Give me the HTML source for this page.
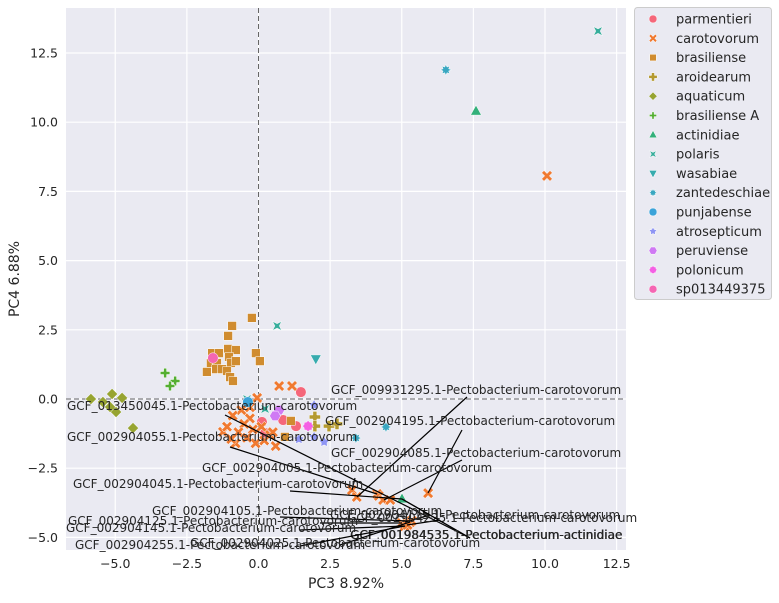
<!DOCTYPE html>
<html><head><meta charset="utf-8"><style>
body{margin:0;background:#fff;width:779px;height:598px;overflow:hidden}
svg text{font-family:"DejaVu Sans","Liberation Sans",sans-serif;fill:#262626}
</style></head><body>
<svg id="chart" width="779" height="598" xmlns="http://www.w3.org/2000/svg"></svg>
<script>
const species=["parmentieri","carotovorum","brasiliense","aroidearum","aquaticum","brasiliense A","actinidiae","polaris","wasabiae","zantedeschiae","punjabense","atrosepticum","peruviense","polonicum","sp013449375"];
const colors=["#f5677a","#f07a31","#d08c2f","#b49a31","#97a431","#54ae31","#33b07a","#36ad9b","#37abae","#39a7c1","#3ba3d9","#8e95f4","#cf79f4","#f460e4","#f566b3"];
const shapes=["circle","x","square","plus","diamond","thinplus","tri","bowtie","tridown","star8","circle","star5","hex","oct","circle"];
const pts_parmentieri=[[1.48,0.25],[0.12,-0.83],[0.86,-0.76],[1.31,-0.98],[0.23,-1.23]];
const pts_carotovorum=[[10.07,8.06],[1.17,0.47],[0.72,0.47],[-0.05,0.04],[-1.24,-1.19],[5.92,-3.40],[3.26,-3.29],[3.43,-3.54],[4.14,-3.43],[4.2,-3.5],[4.35,-3.65],[4.6,-3.65],[5.0,-4.48],[5.1,-4.6],[5.3,-4.45],[5.35,-4.4],[5.2,-4.55],[-0.6,-0.4],[-0.3,-0.7],[-0.9,-0.6],[-0.5,-0.9],[-0.2,-1.1],[0.1,-1.0],[-0.7,-1.2],[-0.4,-1.4],[0.2,-1.5],[-1.1,-1.0],[-0.8,-1.6],[0.6,-1.7],[0.4,-1.3],[-0.1,-1.6],[-0.95,-1.45],[0.5,-1.2],[-0.3,-0.3]];
const pts_brasiliense=[[-0.23,2.93],[-0.92,2.64],[-1.06,2.28],[-1.06,1.81],[-0.79,1.77],[-1.62,1.66],[-1.38,1.66],[-1.03,1.52],[-0.09,1.66],[0.05,1.37],[-1.66,1.30],[-1.45,1.30],[-0.96,1.30],[-0.79,1.37],[-1.80,0.98],[-1.48,1.08],[-1.27,1.08],[-1.10,1.01],[-0.99,0.79],[-0.89,0.65],[1.13,-0.79],[0.92,-1.37]];
const pts_aroidearum=[[1.97,-0.65],[1.97,-0.98],[2.46,-0.98],[2.74,-0.90]];
const pts_aquaticum=[[-5.85,0],[-5.11,0.18],[-4.76,0.04],[-5.43,-0.11],[-5.18,-0.29],[-4.97,-0.47],[-4.38,-1.05]];
const pts_brasilienseA=[[-3.26,0.94],[-2.91,0.65],[-3.09,0.47]];
const pts_actinidiae=[[7.59,10.40],[5.01,-3.61]];
const pts_polaris=[[11.85,13.29],[0.65,2.64],[-0.4,0],[0.23,-0.36]];
const pts_wasabiae=[[2.0,1.45]];
const pts_zantedeschiae=[[6.54,11.89],[4.45,-1.01],[3.40,-1.41]];
const pts_punjabense=[[-0.37,-0.11]];
const pts_atrosepticum=[[1.94,-0.22],[1.41,-1.45],[2.29,-1.55],[1.94,-1.37]];
const pts_peruviense=[[0.72,-0.40],[0.58,-0.61]];
const pts_polonicum=[[1.73,-0.98]];
const pts_sp=[[-1.59,1.48]];
const allPts=[pts_parmentieri,pts_carotovorum,pts_brasiliense,pts_aroidearum,pts_aquaticum,pts_brasilienseA,pts_actinidiae,pts_polaris,pts_wasabiae,pts_zantedeschiae,pts_punjabense,pts_atrosepticum,pts_peruviense,pts_polonicum,pts_sp];
const xTicks=[-5,-2.5,0,2.5,5,7.5,10,12.5];
const yTicks=[-5,-2.5,0,2.5,5,7.5,10,12.5];
const xLabels=["−5.0","−2.5","0.0","2.5","5.0","7.5","10.0","12.5"];
const yLabels=["−5.0","−2.5","0.0","2.5","5.0","7.5","10.0","12.5"];
const annText=["GCF_009931295.1-Pectobacterium-carotovorum","GCF_013450045.1-Pectobacterium-carotovorum","GCF_002904195.1-Pectobacterium-carotovorum","GCF_002904055.1-Pectobacterium-carotovorum","GCF_002904085.1-Pectobacterium-carotovorum","GCF_002904005.1-Pectobacterium-carotovorum","GCF_002904045.1-Pectobacterium-carotovorum","GCF_002904105.1-Pectobacterium-carotovorum","GCF_002904115.1-Pectobacterium-carotovorum","GCF_002904225.1-Pectobacterium-carotovorum","GCF_002904125.1-Pectobacterium-carotovorum","GCF_002904145.1-Pectobacterium-carotovorum","GCF_001984535.1-Pectobacterium-actinidiae","GCF_001984535.1-Pectobacterium-actinidiae","GCF_002904025.1-Pectobacterium-carotovorum","GCF_002904255.1-Pectobacterium-carotovorum"];
const annPos=[[331,394],[67,410],[325,425],[67,441],[331,457],[202,472],[73,488],[152,515],[330,519],[347,522],[68,525],[66,532],[350,539],[350.5,539],[190,547],[75,549]];
const annLine=[[467,397,357,497],[225,415,470,538],[462,430,428,493],[230,447,377,494],[462,460,384,500],[355,478,352,490],[290,491,402,499],[280,517,412,521],[430,515,405,522],[440,520,407,525],[320,523,402,523],[300,530,405,526],[470,538,402,499],[470,538,402,499],[340,545,410,522],[300,546,405,526]];

const NS="http://www.w3.org/2000/svg";
const svg=document.getElementById('chart');
const L=66,R=626,T=8,B=550;
const xs=v=>258.5+v*28.65, ys=v=>399-v*27.68;
function el(t,a,p){const e=document.createElementNS(NS,t);for(const k in a)e.setAttribute(k,a[k]);(p||svg).appendChild(e);return e;}
const bg=el('rect',{x:L,y:T,width:R-L,height:B-T,fill:'#eaeaf2'});


xTicks.forEach((t,i)=>{const x=xs(t);
 const g=el('line',{x1:x,x2:x,y1:T,y2:B,stroke:'#fff','stroke-width':1.2});
 
 
 const tx=el('text',{x:x,y:568,'text-anchor':'middle','font-size':12.5});tx.textContent=xLabels[i];
 
 });
yTicks.forEach((t,i)=>{const y=ys(t);
 const g=el('line',{x1:L,x2:R,y1:y,y2:y,stroke:'#fff','stroke-width':1.2});
 
 
 const tx=el('text',{x:58,y:y+4.5,'text-anchor':'end','font-size':12.5});tx.textContent=yLabels[i];
 
 });
const vz=el('line',{x1:xs(0),x2:xs(0),y1:T,y2:B,stroke:'#666','stroke-dasharray':'5,3','stroke-width':1});


const hz=el('line',{x1:L,x2:R,y1:ys(0),y2:ys(0),stroke:'#666','stroke-dasharray':'5,3','stroke-width':1});



function marker(shape,cx,cy,c,s,parent){
 let e;const w={stroke:'#fff','stroke-width':0.5,fill:c};
 const poly=p=>el('polygon',Object.assign({points:p.map(q=>(cx+q[0]*s).toFixed(1)+','+(cy+q[1]*s).toFixed(1)).join(' ')},w),parent);
 switch(shape){
 case 'circle':e=el('circle',Object.assign({cx,cy,r:5.3*s},w),parent);break;
 case 'square':e=poly([[-4.4,-4.4],[4.4,-4.4],[4.4,4.4],[-4.4,4.4]]);break;
 case 'diamond':e=poly([[0,-5.5],[5.5,0],[0,5.5],[-5.5,0]]);break;
 case 'x':{const a=2.3,b=5.3;e=poly([[-b,-b+a],[-b+a,-b],[0,-a],[b-a,-b],[b,-b+a],[a,0],[b,b-a],[b-a,b],[0,a],[-b+a,b],[-b,b-a],[-a,0]]);break;}
 case 'plus':{const a=2,b=5.6;e=poly([[-a,-b],[a,-b],[a,-a],[b,-a],[b,a],[a,a],[a,b],[-a,b],[-a,a],[-b,a],[-b,-a],[-a,-a]]);break;}
 case 'thinplus':{const a=1.5,b=4.8;e=poly([[-a,-b],[a,-b],[a,-a],[b,-a],[b,a],[a,a],[a,b],[-a,b],[-a,a],[-b,a],[-b,-a],[-a,-a]]);break;}
 case 'tri':e=poly([[0,-5.8],[5.4,4],[-5.4,4]]);break;
 case 'tridown':e=poly([[0,5.8],[5.4,-4],[-5.4,-4]]);break;
 case 'bowtie':e=poly([[-4.5,-4.5],[0,-2.2],[4.5,-4.5],[2.2,0],[4.5,4.5],[0,2.2],[-4.5,4.5],[-2.2,0]]);break;
 case 'star8':case 'star5':case 'oct':case 'hex':{const n={star8:8,star5:5,oct:8,hex:6}[shape];const ro=5.5,ri=shape==='oct'?4.3:3;const p=[];
  if(shape==='hex'){for(let i=0;i<6;i++){const t=i*Math.PI/3;p.push([ro*Math.cos(t),ro*Math.sin(t)]);}}
  else for(let i=0;i<2*n;i++){const r=i%2?ri:ro,t=-Math.PI/2+i*Math.PI/n;p.push([r*Math.cos(t),r*Math.sin(t)]);}
  e=poly(p);break;}
 }
 return e;
}
allPts.forEach((arr,si)=>{arr.forEach(p=>{
 const m=marker(shapes[si],xs(p[0]),ys(p[1]),colors[si],1);
 
 
});});
annText.forEach((t,i)=>{
 const l=annLine[i];
 const ln=el('line',{x1:l[0],y1:l[1],x2:l[2],y2:l[3],stroke:'#000','stroke-width':1.2});
 
 
 const tx=el('text',{x:annPos[i][0],y:annPos[i][1],'font-size':12});tx.textContent=t;
 
 
});
const xt=el('text',{x:346,y:588,'text-anchor':'middle','font-size':14});xt.textContent='PC3 8.92%';


const yt=el('text',{x:19,y:279,'text-anchor':'middle','font-size':14,transform:'rotate(-90 19 279)'});yt.textContent='PC4 6.88%';


const lg=el('g',{});


const lb=el('rect',{x:634.5,y:7.5,width:137,height:292,rx:3,fill:'#eaeaf2',stroke:'#ccc'},lg);


species.forEach((s,i)=>{const y=19+i*19.3;
 const g=el('g',{},lg);
 
 
 marker(shapes[i],653,y,colors[i],0.75,g);
 const tx=el('text',{x:676,y:y+4.5,'font-size':13},g);tx.textContent=s;
});
</script>
</body></html>
